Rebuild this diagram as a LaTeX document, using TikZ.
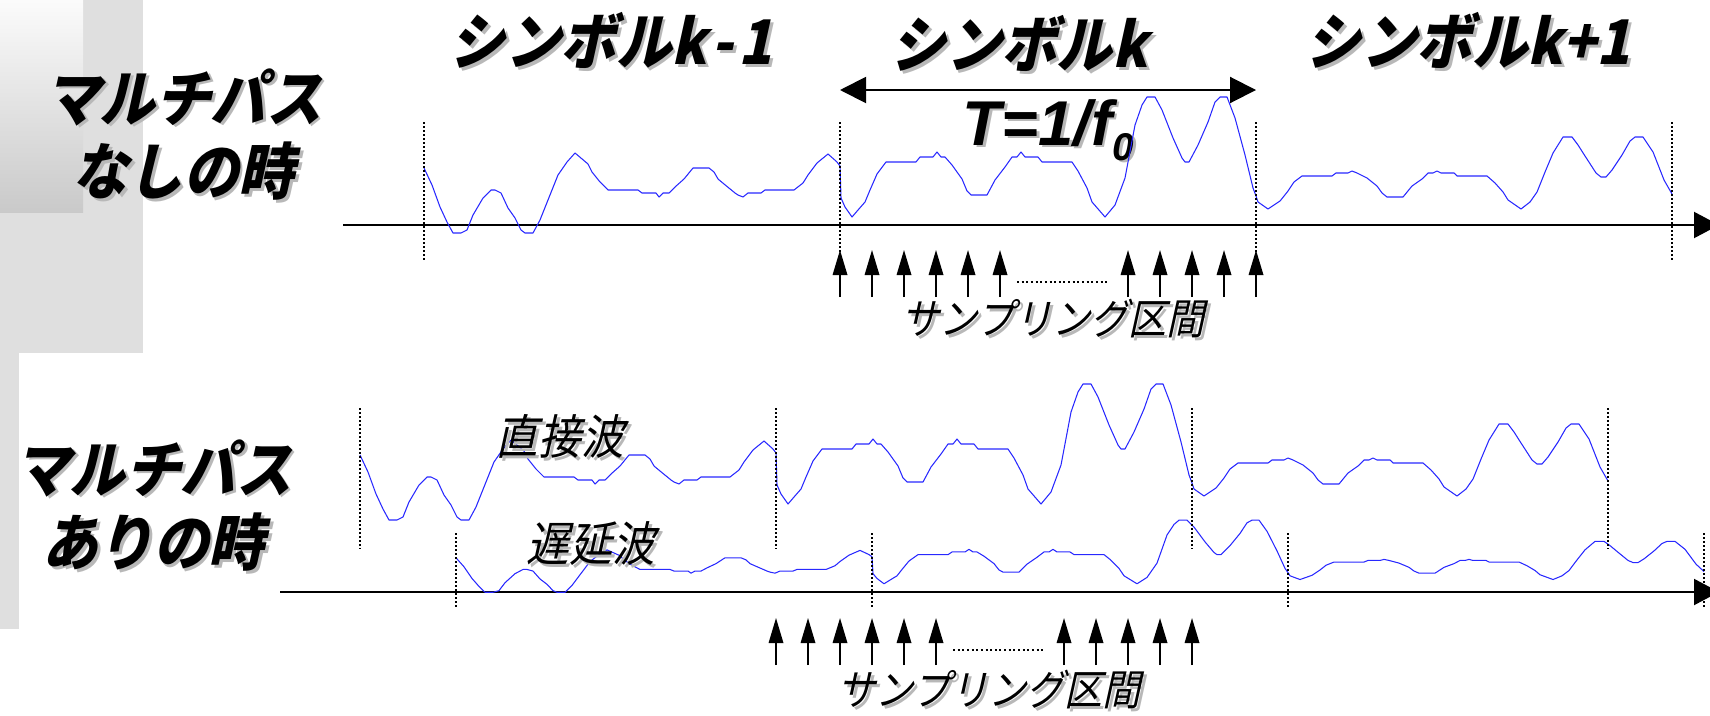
\documentclass[tikz,border=0pt]{standalone}
\usepackage{fontspec}
\setmainfont{Liberation Sans}
\newfontfamily\jpfont[FakeSlant=0.22, FakeStretch=0.9]{Noto Sans CJK JP}
\usepackage{tikz}
\usetikzlibrary{arrows.meta}
\definecolor{shadowgray}{gray}{0.72}
\definecolor{wavecol}{RGB}{40,40,255}
\newcommand{\shd}[1]{\makebox[0pt][l]{\hspace{0.8pt}\raisebox{-0.8pt}{\textcolor{shadowgray}{#1}}}#1}
% one sweep of three symbols, relative to the start of symbol k-1 on the axis
\newcommand{\symwave}{(0,-57) -- (8,-40) -- (16,-18) -- (23,-3) -- (29,8) -- (37,8) -- (43,5) -- (49,-10) -- (59,-27) -- (67,-35) -- (71,-35) -- (77,-32) -- (84,-17) -- (91,-7) -- (97,5) -- (101,8) -- (109,8) -- (116,-5) -- (124,-25) -- (134,-50) -- (143,-63) -- (151,-72) -- (164,-61) -- (168,-53) -- (176,-43) -- (184,-35) -- (214,-35) -- (218,-32) -- (232,-32) -- (235,-28) -- (239,-32) -- (245,-32) -- (251,-38) -- (260,-46) -- (269,-57) -- (285,-57) -- (290,-53) -- (294,-46) -- (300,-41) -- (311,-32) -- (314,-30) -- (319,-28) -- (324,-32) -- (337,-32) -- (341,-35) -- (370,-35) -- (379,-42) -- (384,-50) -- (393,-62) -- (404,-71) -- (413,-63) -- (416,-59)
 -- (417,-27) -- (421,-18) -- (428,-8) -- (434,-15) -- (441,-23) -- (446,-35) -- (453,-51) -- (462,-63) -- (492,-63) -- (496,-68) -- (509,-68) -- (513,-73) -- (517,-68) -- (521,-68) -- (528,-60) -- (538,-46) -- (543,-34) -- (547,-30) -- (563,-30) -- (571,-45) -- (581,-58) -- (588,-68) -- (593,-68) -- (597,-73) -- (601,-68) -- (614,-68) -- (618,-63) -- (648,-63) -- (654,-54) -- (663,-37) -- (668,-23) -- (681,-8) -- (691,-20) -- (701,-47) -- (711,-100) -- (718,-120) -- (723,-128) -- (731,-128) -- (738,-115) -- (749,-87) -- (758,-67) -- (761,-63) -- (765,-63) -- (774,-80) -- (784,-103) -- (791,-123) -- (796,-128) -- (803,-128) -- (811,-107) -- (821,-70) -- (829,-37) -- (832,-29)
 -- (834,-23) -- (844,-16) -- (856,-24) -- (864,-34) -- (870,-43) -- (878,-49) -- (908,-49) -- (912,-52) -- (924,-52) -- (928,-54) -- (933,-52) -- (943,-47) -- (953,-39) -- (958,-32) -- (963,-28) -- (979,-28) -- (988,-39) -- (998,-46) -- (1004,-52) -- (1009,-52) -- (1013,-54) -- (1017,-52) -- (1030,-52) -- (1033,-49) -- (1063,-49) -- (1071,-42) -- (1079,-33) -- (1084,-25) -- (1097,-16) -- (1106,-23) -- (1113,-33) -- (1121,-53) -- (1129,-72) -- (1139,-88) -- (1148,-88) -- (1154,-80) -- (1161,-69) -- (1172,-52) -- (1177,-48) -- (1182,-48) -- (1188,-55) -- (1198,-70) -- (1206,-84) -- (1211,-88) -- (1219,-88) -- (1229,-73) -- (1240,-45) -- (1248,-31)}
\tikzset{
  bigtxt/.style={font=\jpfont\bfseries\fontsize{17.5}{21}\selectfont, align=center, inner sep=0pt},
  wavetxt/.style={font=\jpfont\fontsize{13.5}{15}\selectfont, inner sep=0pt},
  smptxt/.style={font=\jpfont\fontsize{12}{14}\selectfont, inner sep=0pt},
  mathtxt/.style={font=\bfseries\itshape\fontsize{18}{20}\selectfont, inner sep=0pt},
  bgbar/.style={fill=gray!25},
  axis/.style={line width=0.57pt, -{Triangle[length=2.5mm,width=2.6mm]}},
  bound/.style={line width=0.57pt, dash pattern=on 0.57pt off 0.57pt},
  samp/.style={line width=0.48pt, -{Triangle[length=2.5mm,width=1.45mm]}},
  gap/.style={line width=0.42pt, dash pattern=on 0.57pt off 0.75pt},
  wave/.style={draw=wavecol, line width=0.3pt, line join=round},
  period/.style={line width=0.57pt, {Triangle[length=2.6mm,width=2.6mm]}-{Triangle[length=2.6mm,width=2.6mm]}}
}

\begin{document}
\begin{tikzpicture}[x=0.01cm, y=-0.01cm]
\useasboundingbox (0,0) rectangle (1710,715);
\clip (0,0) rectangle (1710,715);
% side bars
\fill[bgbar] (0,0) rectangle (143,353);
\shade[top color=gray!3, bottom color=gray!42] (0,0) rectangle (83,212);
\fill[bgbar] (0,353) rectangle (19,629);

% without multipath
\node[bigtxt] (nomp) at (183,136) {\shd{マルチパス}\\\shd{なしの時}};
\node[bigtxt] (symA) at (611,42) {\shd{シンボルk\hspace{1.5pt}-\hspace{1.5pt}1}};
\node[bigtxt] (symB) at (1019,45) {\shd{シンボルk}};
\node[bigtxt] (symC) at (1468,42) {\shd{シンボルk+1}};
\coordinate (pstart) at (840,90);
\coordinate (pend) at (1256,90);
\draw[period] (pstart) -- (pend);
\node[mathtxt, anchor=base west] (tf) at (962,145) {\shd{T=1/f}\raisebox{-4.3pt}{\fontsize{11}{11}\selectfont\shd{0}}};

\draw[axis] (343,225) -- (1719,225);
\draw[wave, shift={(424,225)}] \symwave;
\foreach \x in {424,840,1256,1672}
  \draw[bound] (\x,122) -- (\x,262);
\foreach \x in {840,872,904,936,968,1000,1128,1160,1192,1224,1256}
  \draw[samp] (\x,297) -- (\x,250);
\draw[gap] (1017,282) -- (1108,282);
\node[smptxt] (smpA) at (1053,320) {\shd{サンプリング区間}};

% with multipath
\node[bigtxt] (withmp) at (153,507) {\shd{マルチパス}\\\shd{ありの時}};
\draw[axis] (280,592) -- (1719,592);
\draw[wave, shift={(360,512)}] \symwave;
\draw[wave, shift={(456,588)}, yscale=0.53] \symwave;
\foreach \x in {360,776,1192,1608}
  \draw[bound] (\x,408) -- (\x,549);
\foreach \x in {456,872,1288,1704}
  \draw[bound] (\x,533) -- (\x,608);
\node[wavetxt] (direct) at (560,438) {\shd{直接波}};
\node[wavetxt] (delayed) at (591,545) {\shd{遅延波}};
\foreach \x in {776,808,840,872,904,936,1064,1096,1128,1160,1192}
  \draw[samp] (\x,665) -- (\x,618);
\draw[gap] (953,650) -- (1044,650);
\node[smptxt] (smpB) at (989,691) {\shd{サンプリング区間}};
\end{tikzpicture}
\end{document}
